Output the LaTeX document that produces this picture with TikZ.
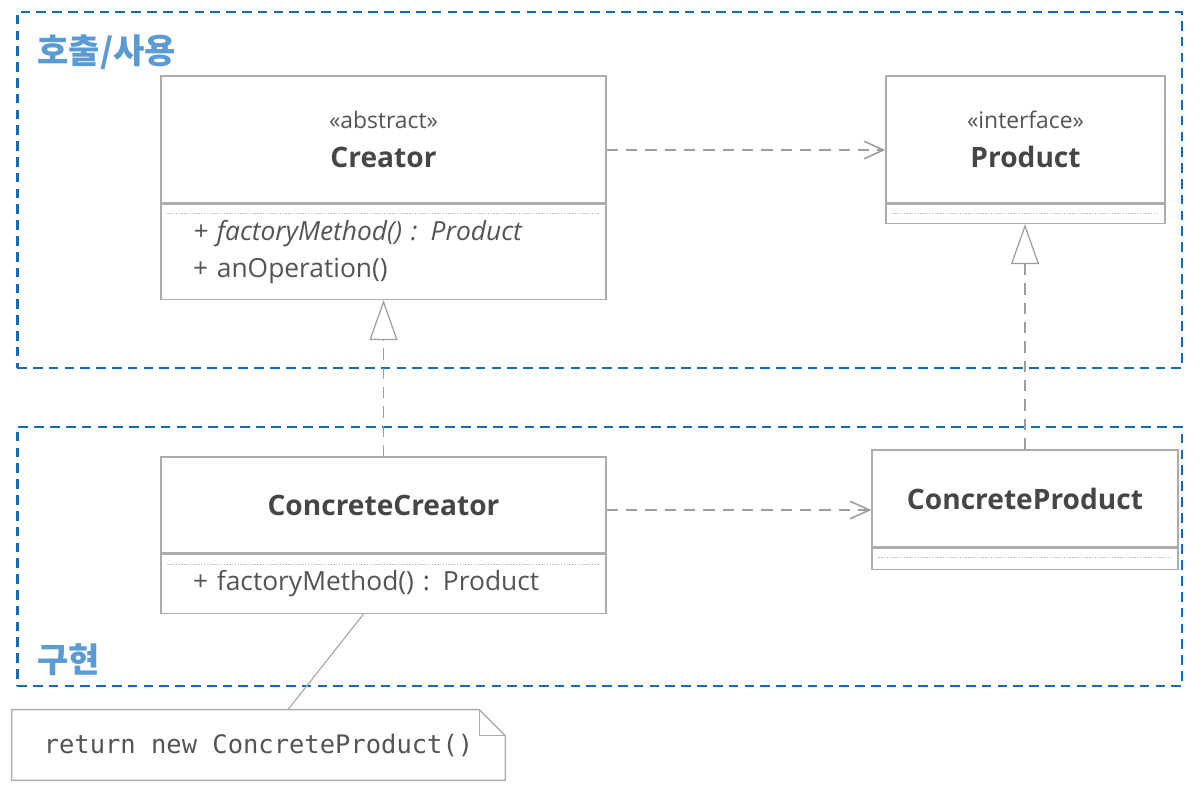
\documentclass[tikz,border=0pt]{standalone}
\usepackage{fontspec}
\setmainfont{Open Sans}
\setmonofont{DejaVu Sans Mono}
\newfontfamily\krfont{Noto Sans CJK KR}
\usepackage{tikz}
\usetikzlibrary{
  arrows.meta,
  positioning,
  backgrounds,
  calc
}
\definecolor{GrpBlue}{RGB}{16,108,190}
\definecolor{LblBlue}{RGB}{91,155,213}
\definecolor{BoxGray}{RGB}{172,172,172}
\definecolor{LineGray}{RGB}{158,158,158}
\definecolor{TextGray}{RGB}{84,84,84}
\definecolor{NameGray}{RGB}{70,70,70}
\newcommand{\stereo}[1]{{\fontsize{13}{19}\selectfont\mdseries\color{TextGray}\guillemotleft#1\guillemotright}}
\tikzset{
  %%── 클래스 헤더 / 연산 칸 ─────────────────────────────
  bigHead/.style = {
    rectangle, draw = BoxGray, fill = white, line width = 0.8pt,
    minimum width = 8.9cm, inner sep = 0pt,
    align = center, text = NameGray,
    font = \fontsize{16}{22}\selectfont\bfseries
  },
  smallHead/.style = {
    bigHead, minimum width = 5.58cm
  },
  opsBox/.style = {
    rectangle, draw = BoxGray, fill = white, line width = 0.8pt,
    text width = 7.62cm, inner xsep = 0.64cm, inner ysep = 0pt,
    align = left, text = TextGray,
    font = \fontsize{15}{21}\selectfont
  },
  emptyOps/.style = {
    rectangle, draw = BoxGray, fill = white, line width = 0.8pt,
    inner sep = 0pt
  },
  dotSep/.style = {draw = BoxGray!80, line width = 0.6pt, dash pattern = on 0.8pt off 0.8pt},
  %%── 노트 ───────────────────────────────────────────
  noteBox/.style = {
    rectangle, minimum width = 9.86cm, minimum height = 1.4cm,
    inner sep = 0pt, text = TextGray,
    font = \ttfamily\fontsize{14.5}{16}\selectfont
  },
  %%── 그룹 상자 ──────────────────────────────────────
  grpbox/.style = {
    rectangle, draw = GrpBlue, line width = 1.6pt,
    dash pattern = on 5.5pt off 3.5pt,
    minimum width = 23.3cm, inner sep = 0pt
  },
  grpLabel/.style = {
    anchor = west, inner sep = 0pt, text = LblBlue,
    font = \krfont\bfseries\fontsize{19.4}{22}\selectfont
  },
  %%── 화살표 ─────────────────────────────────────────
  dep/.style  = {-{Straight Barb[length=11pt, width=10pt, line width=0.9pt]},
                 draw = LineGray, line width = 1.1pt, dash pattern = on 6.5pt off 4.5pt},
  real/.style = {-{Triangle[open, length=0.8cm, width=0.56cm, fill=white, line width=0.7pt]},
                 draw = LineGray, line width = 1.1pt, dash pattern = on 6.5pt off 4.5pt},
  noteLink/.style = {draw = BoxGray, line width = 0.7pt}
}

\begin{document}
\begin{tikzpicture}[x = 0.02cm, y = -0.02cm]

  \useasboundingbox (0,0) rectangle (1202,792);

  %% ── 그룹: 호출/사용, 구현 ─────────────────────────
  \begin{scope}[on background layer]
    \node[grpbox, minimum height = 7.12cm] (gTop) at (599.5,190) {};
    \node[grpbox, minimum height = 5.18cm] (gBot) at (599.5,556.5) {};
  \end{scope}
  \node[grpLabel] (lTop) at (37,52) {호출/사용};
  \node[grpLabel] (lBot) at (37,660) {구현};

  %% ── Creator ────────────────────────────────────
  \node[bigHead, minimum height = 2.54cm] (crHead) at (383.5,139.5)
    {\stereo{abstract}\\Creator};
  \node[opsBox, minimum height = 1.9cm, below = 0pt of crHead] (crOps)
    {\textit{+ factoryMethod() : Product}\\+ anOperation()};
  \draw[dotSep] ([xshift=0.14cm, yshift=-0.2cm]crOps.north west)
             -- ([xshift=-0.14cm, yshift=-0.2cm]crOps.north east);

  %% ── Product ────────────────────────────────────
  \node[smallHead, minimum height = 2.54cm] (prHead) at (1025.5,139.5)
    {\stereo{interface}\\Product};
  \node[emptyOps, minimum width = 5.58cm, minimum height = 0.38cm,
        below = 0pt of prHead] (prOps) {};
  \draw[dotSep] ([xshift=0.14cm, yshift=-0.2cm]prOps.north west)
             -- ([xshift=-0.14cm, yshift=-0.2cm]prOps.north east);

  %% ── ConcreteCreator ────────────────────────────
  \node[bigHead, minimum height = 1.92cm] (ccHead) at (383.5,505)
    {ConcreteCreator};
  \node[opsBox, minimum height = 1.18cm, below = 0pt of ccHead] (ccOps)
    {+ factoryMethod() : Product};
  \draw[dotSep] ([xshift=0.14cm, yshift=-0.22cm]ccOps.north west)
             -- ([xshift=-0.14cm, yshift=-0.22cm]ccOps.north east);

  %% ── ConcreteProduct ────────────────────────────
  \node[smallHead, minimum width = 6.12cm, minimum height = 1.94cm]
    (cpHead) at (1025,498.5) {ConcreteProduct};
  \node[emptyOps, minimum width = 6.12cm, minimum height = 0.42cm,
        below = 0pt of cpHead] (cpOps) {};
  \draw[dotSep] ([xshift=0.14cm, yshift=-0.2cm]cpOps.north west)
             -- ([xshift=-0.14cm, yshift=-0.2cm]cpOps.north east);

  %% ── 노트 ───────────────────────────────────────
  \node[noteBox] (note) at (258.5,745) {return new ConcreteProduct()};
  \draw[draw = BoxGray, line width = 0.8pt, fill = white]
    (note.south west) -- (note.north west)
    -- ([xshift=-0.52cm]note.north east)
    -- ([yshift=-0.52cm]note.north east)
    -- (note.south east) -- cycle;
  \draw[draw = BoxGray, line width = 0.6pt]
    ([xshift=-0.52cm]note.north east) |- ([yshift=-0.52cm]note.north east);
  \node[noteBox] at (note) {return new ConcreteProduct()};
  \draw[noteLink] ([xshift=0.59cm]note.north) -- ([xshift=-0.4cm]ccOps.south);

  %% ── 연결선 ─────────────────────────────────────
  \draw[dep] ([yshift=-0.21cm]crHead.east) -- ([yshift=-0.21cm]prHead.west);
  \draw[dep] ([yshift=-0.1cm]ccHead.east) -- ([yshift=-0.1cm]ccHead.east -| cpHead.west);
  \draw[real] (ccHead.north) -- (crOps.south);
  \draw[real] (cpHead.north) -- (cpHead.north |- prOps.south);

\end{tikzpicture}
\end{document}
